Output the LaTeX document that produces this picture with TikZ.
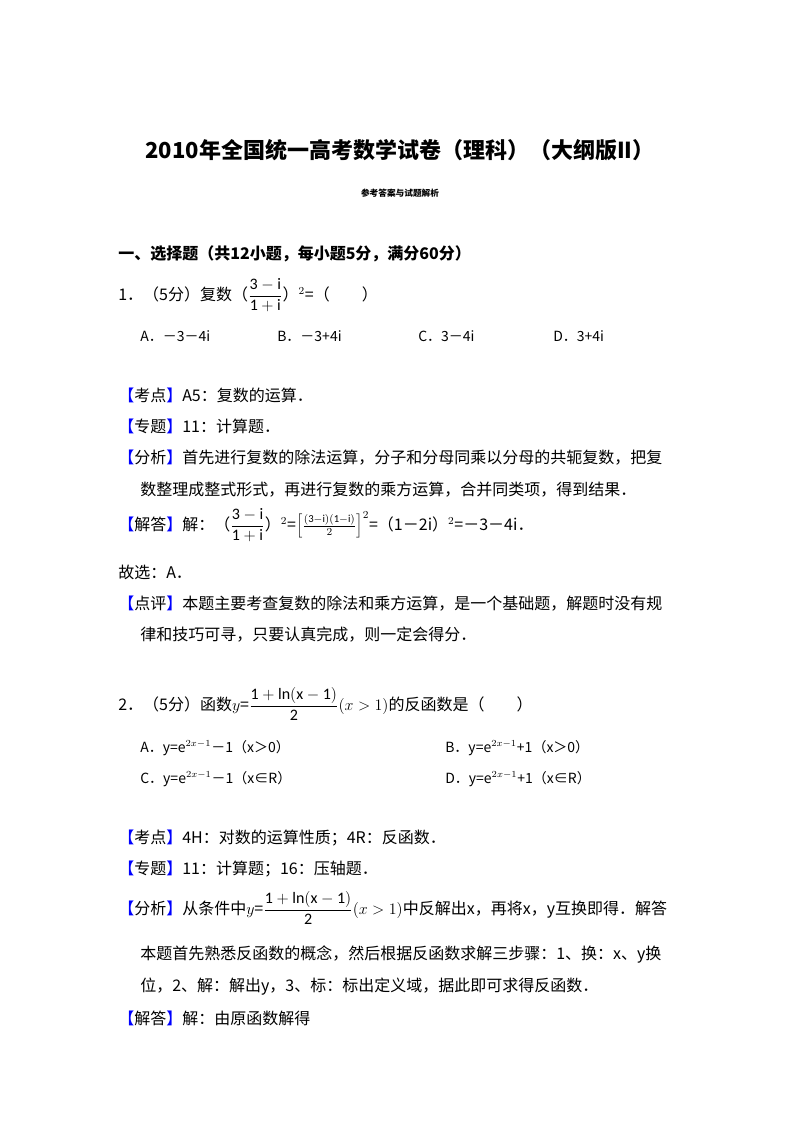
\documentclass[tikz,border=0pt]{standalone}
\usepackage{fontspec}
\setmainfont{Carlito}
\newfontfamily\cjk{Noto Sans CJK SC}
\definecolor{kb}{RGB}{0,0,255}
\newcommand{\kb}[1]{{\color{kb}【}#1{\color{kb}】}}
\newcommand{\fr}[2]{$\displaystyle\frac{\mathrm{#1}}{\mathrm{#2}}$}
\begin{document}
\begin{tikzpicture}[x=0.75pt,y=-0.75pt,
  t/.style={anchor=base west,inner sep=0pt,font=\cjk\fontsize{12}{14}\selectfont},
  ts/.style={anchor=base west,inner sep=0pt,font=\cjk\fontsize{10.5}{12}\selectfont}]
\useasboundingbox[fill=white] (0,0) rectangle (800,1133);
\node[anchor=base,inner sep=0pt,font=\cjk\bfseries\fontsize{16.5}{18}\selectfont] (title) at (400,158) {2010年全国统一高考数学试卷（理科）（大纲版II）};
\node[anchor=base,inner sep=0pt,font=\cjk\bfseries\fontsize{6.5}{8}\selectfont] (sub) at (400,196) {参考答案与试题解析};
\node[t,font=\cjk\bfseries\fontsize{12}{14}\selectfont] (sec) at (118,259) {一、选择题（共12小题，每小题5分，满分60分）};
\node[t] (q1) at (118,300) {1．（5分）复数（\fr{3-i}{1+i}）$^{2}$=（　　）};
\node[ts] (q1a) at (140,341) {A．－3－4i};
\node[ts] (q1b) at (277,341) {B．－3+4i};
\node[ts] (q1c) at (418,341) {C．3－4i};
\node[ts] (q1d) at (553,341) {D．3+4i};
\node[t] (k1) at (118,401) {\kb{考点}A5：复数的运算．};
\node[t] (z1) at (118,432) {\kb{专题}11：计算题．};
\node[t] (f1) at (118,463) {\kb{分析}首先进行复数的除法运算，分子和分母同乘以分母的共轭复数，把复};
\node[t] (f1b) at (140,495) {数整理成整式形式，再进行复数的乘方运算，合并同类项，得到结果．};
\node[t] (j1) at (118,530) {\kb{解答}解：（\fr{3-i}{1+i}）$^2$=$\Big[\frac{\mathrm{(3-i)(1-i)}}{2}\Big]^2$=（1－2i）$^2$=－3－4i．};
\node[t] (g1) at (118,578) {故选：A．};
\node[t] (d1) at (118,609) {\kb{点评}本题主要考查复数的除法和乘方运算，是一个基础题，解题时没有规};
\node[t] (d1b) at (140,640) {律和技巧可寻，只要认真完成，则一定会得分．};
\node[t] (q2) at (118,710) {2．（5分）函数$y$=\fr{1+ln(x-1)}{2}$(x>1)$的反函数是（　　）};
\node[ts] (q2a) at (140,752) {A．y=e$^{2x-1}$－1（x＞0）};
\node[ts] (q2b) at (445,752) {B．y=e$^{2x-1}$+1（x＞0）};
\node[ts] (q2c) at (140,783) {C．y=e$^{2x-1}$－1（x∈R）};
\node[ts] (q2d) at (445,783) {D．y=e$^{2x-1}$+1（x∈R）};
\node[t] (k2) at (118,843) {\kb{考点}4H：对数的运算性质；4R：反函数．};
\node[t] (z2) at (118,874) {\kb{专题}11：计算题；16：压轴题．};
\node[t] (f2) at (118,914) {\kb{分析}从条件中$y$=\fr{1+ln(x-1)}{2}$(x>1)$中反解出x，再将x，y互换即得．解答};
\node[t] (f2b) at (140,959) {本题首先熟悉反函数的概念，然后根据反函数求解三步骤：1、换：x、y换};
\node[t] (f2c) at (140,991) {位，2、解：解出y，3、标：标出定义域，据此即可求得反函数．};
\node[t] (j2) at (118,1024) {\kb{解答}解：由原函数解得};
\end{tikzpicture}
\end{document}
